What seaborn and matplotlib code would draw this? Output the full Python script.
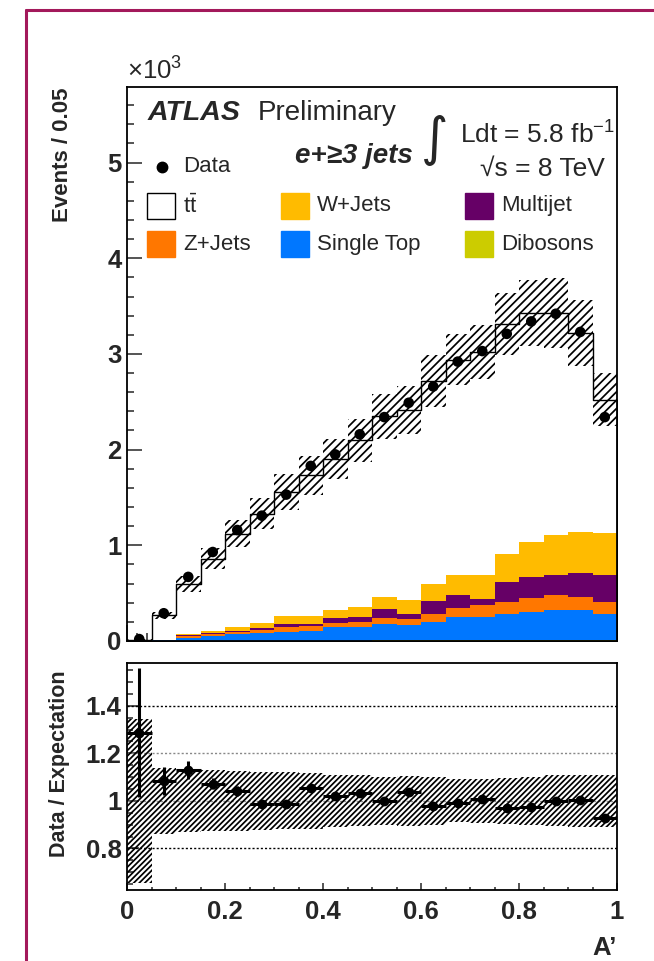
import numpy as np
import pandas as pd
import matplotlib
matplotlib.use("Agg")
import matplotlib.pyplot as plt
import seaborn as sns
from matplotlib.patches import Rectangle
from matplotlib.lines import Line2D
from matplotlib.ticker import MultipleLocator, FixedLocator, FuncFormatter

# ---------------- data (events in units of 10^3, bins of width 0.05 in A') -------------
bin_edges = np.linspace(0.0, 1.0, 21)
bin_centers = 0.5 * (bin_edges[:-1] + bin_edges[1:])

data = [0.02, 0.29, 0.67, 0.93, 1.16, 1.31, 1.53, 1.83, 1.95, 2.16,
        2.34, 2.49, 2.66, 2.92, 3.03, 3.21, 3.34, 3.42, 3.23, 2.34]
dibosons = [0.0, 0.001, 0.002, 0.002, 0.003, 0.003, 0.004, 0.004, 0.005, 0.005,
            0.006, 0.006, 0.008, 0.009, 0.009, 0.010, 0.011, 0.012, 0.012, 0.011]
single_top = [0.0, 0.007, 0.033, 0.054, 0.067, 0.077, 0.093, 0.100, 0.141, 0.141,
              0.174, 0.157, 0.190, 0.244, 0.244, 0.275, 0.295, 0.311, 0.311, 0.274]
z_jets = [0.0, 0.002, 0.021, 0.014, 0.027, 0.035, 0.049, 0.049, 0.044, 0.054,
          0.063, 0.070, 0.083, 0.094, 0.122, 0.121, 0.142, 0.156, 0.135, 0.121]
multijet = [0.0, 0.001, 0.007, 0.013, 0.007, 0.024, 0.031, 0.024, 0.053, 0.047,
            0.094, 0.048, 0.136, 0.132, 0.069, 0.212, 0.222, 0.215, 0.250, 0.285]
w_jets = [0.0, 0.001, 0.011, 0.021, 0.045, 0.049, 0.083, 0.083, 0.080, 0.107,
          0.121, 0.146, 0.177, 0.209, 0.244, 0.288, 0.360, 0.410, 0.434, 0.434]
ttbar = [0.012, 0.258, 0.522, 0.756, 0.971, 1.143, 1.295, 1.470, 1.577, 1.746,
         1.892, 1.983, 2.126, 2.253, 2.333, 2.404, 2.400, 2.326, 2.078, 1.395]
# relative systematic uncertainty on the expectation (hatched band)
rel_unc = [0.345, 0.140, 0.133, 0.128, 0.125, 0.122, 0.120, 0.117, 0.110, 0.107,
           0.100, 0.104, 0.100, 0.090, 0.093, 0.098, 0.100, 0.107, 0.108, 0.110]
# ratio panel
ratio = [1.287, 1.084, 1.129, 1.073, 1.041, 0.985, 0.985, 1.056, 1.022, 1.031,
         0.999, 1.038, 0.980, 0.993, 1.006, 0.972, 0.975, 1.001, 1.003, 0.930]
ratio_err = [0.27, 0.058, 0.037, 0.025, 0.020, 0.016, 0.015, 0.014, 0.013, 0.012,
             0.012, 0.011, 0.011, 0.010, 0.010, 0.010, 0.010, 0.010, 0.010, 0.010]

yticks_main = [0, 1, 2, 3, 4, 5]
yticks_ratio = [0.8, 1.0, 1.2, 1.4]
xticks = [0, 0.2, 0.4, 0.6, 0.8, 1.0]

colors = {
    "ttbar": "#FFFFFF",
    "wjets": "#FFBB00",
    "multijet": "#660066",
    "zjets": "#FF7700",
    "singletop": "#0077FF",
    "dibosons": "#CCCC00",
}

# ---------------- style ----------------
sns.set_theme(style="ticks")
plt.rcParams["font.family"] = ["Liberation Sans", "DejaVu Sans"]
plt.rcParams["mathtext.fontset"] = "custom"
plt.rcParams["mathtext.rm"] = "Liberation Sans"
plt.rcParams["mathtext.it"] = "Liberation Sans:italic"
plt.rcParams["mathtext.bf"] = "Liberation Sans:bold"
plt.rcParams["hatch.linewidth"] = 1.25
plt.rcParams["axes.linewidth"] = 1.3

W, H = 654, 961
fig = plt.figure(figsize=(W / 100, H / 100), dpi=100)
fig.patch.set_facecolor("white")

def fx(px):
    return px / W

def fy(py):
    return 1 - py / H

ax = fig.add_axes([fx(127), fy(641), fx(617) - fx(127), fy(87) - fy(641)])
ax2 = fig.add_axes([fx(127), fy(890), fx(617) - fx(127), fy(663) - fy(890)])

# ---------------- stacked backgrounds ----------------
c_dib = np.array(dibosons)
c_st = c_dib + np.array(single_top)
c_z = c_st + np.array(z_jets)
c_mj = c_z + np.array(multijet)
c_w = c_mj + np.array(w_jets)
total = c_w + np.array(ttbar)

def hist_layer(vals, **kw):
    df = pd.DataFrame({"A": bin_centers, "w": vals})
    sns.histplot(data=df, x="A", weights="w", binwidth=0.05, binrange=(0.0, 1.0),
                 element="step", fill=True, alpha=1, ax=ax, **kw)

hist_layer(total, facecolor=colors["ttbar"], edgecolor="black", linewidth=1.0)
layers = [(c_w, "wjets"), (c_mj, "multijet"), (c_z, "zjets"), (c_st, "singletop"), (c_dib, "dibosons")]
for vals, key in layers:
    hist_layer(vals, facecolor=colors[key], edgecolor="none", linewidth=0)

# uncertainty band
u = np.array(rel_unc)
ax.bar(bin_centers, 2 * total * u, bottom=total * (1 - u), width=0.05, fill=False,
       hatch="////", edgecolor="black", linewidth=0, zorder=3)

# data
sns.scatterplot(x=bin_centers, y=data, color="black", s=58, edgecolor="none", ax=ax, zorder=5)

ax.set_xlim(0, 1)
ax.set_ylim(0, 5.79)
ax.set_xlabel("")
ax.set_ylabel("")
ax.xaxis.set_major_locator(MultipleLocator(0.1))
ax.xaxis.set_minor_locator(MultipleLocator(0.02))
ax.yaxis.set_major_locator(FixedLocator(yticks_main))
ax.yaxis.set_minor_locator(MultipleLocator(0.2))
ax.yaxis.set_major_formatter(FuncFormatter(lambda v, p: "%d" % v))
ax.tick_params(axis="x", which="major", direction="in", length=11.5, width=1.1, labelbottom=False)
ax.tick_params(axis="x", which="minor", direction="in", length=5.8, width=1.1)
ax.tick_params(axis="y", which="major", direction="in", length=10.8, width=1.1, pad=4)
ax.tick_params(axis="y", which="minor", direction="in", length=5.0, width=1.1)
for lab in ax.get_yticklabels():
    lab.set_fontsize(18.5)
    lab.set_fontweight("bold")
for s in ["top", "right", "left", "bottom"]:
    ax.spines[s].set_visible(True)
    ax.spines[s].set_color("black")
    ax.spines[s].set_zorder(10)

ax.text(0.0, 1.004, r"×10$^{3}$", transform=ax.transAxes, ha="left", va="bottom", fontsize=18.5)

# ---------------- legend & labels in main panel ----------------
T = ax.transAxes
ax.text(0.042, 0.953, "ATLAS", transform=T, fontsize=20.5, fontweight="bold", style="italic", va="center")
ax.text(0.267, 0.953, "Preliminary", transform=T, fontsize=20, va="center")
ax.text(0.584, 0.8755, "e+≥3 jets", transform=T, fontsize=20, fontweight="bold", style="italic",
        ha="right", va="center")
ax.text(0.6286, 0.904, "∫", transform=T, family="DejaVu Sans", fontsize=38, ha="center", va="center")
ax.text(0.6796, 0.913, r"Ldt = 5.8 fb$^{\mathregular{-1}}$", transform=T, fontsize=19, va="center")
ax.text(0.9755, 0.852, "√s = 8 TeV", transform=T, fontsize=19, ha="right", va="center")

ax.plot([0.0714], [0.8556], "o", color="black", ms=7.5, transform=T, clip_on=False)
ax.text(0.1143, 0.8556, "Data", transform=T, fontsize=16, va="center")

bw, bh = 0.0571, 0.047
entries = [
    (0.0408, 0.7617, "ttbar", r"t$\mathregular{\bar{t}}$"),
    (0.3143, 0.7617, "wjets", "W+Jets"),
    (0.6898, 0.7617, "multijet", "Multijet"),
    (0.0408, 0.6931, "zjets", "Z+Jets"),
    (0.3143, 0.6931, "singletop", "Single Top"),
    (0.6898, 0.6931, "dibosons", "Dibosons"),
]
for x0, y0, key, lab in entries:
    ec = "black" if key == "ttbar" else colors[key]
    ax.add_patch(Rectangle((x0, y0), bw, bh, transform=T, facecolor=colors[key],
                           edgecolor=ec, linewidth=1.0, zorder=6))
    ax.text(x0 + 0.0735, y0 + bh / 2, lab, transform=T, fontsize=16, va="center")

# ---------------- ratio panel ----------------
ax2.bar(bin_centers, 2 * u, bottom=1 - u, width=0.05, fill=False,
        hatch="//////", edgecolor="black", linewidth=0, zorder=2)
for yv, col in [(1.4, "black"), (1.2, "#888888"), (1.0, "#888888"), (0.8, "black")]:
    ax2.axhline(yv, color=col, linestyle=(0, (1.5, 1.5)), linewidth=1.0, zorder=1)
ax2.errorbar(bin_centers, ratio, xerr=0.025, yerr=ratio_err, fmt="o", color="black",
             ms=6.0, elinewidth=2.2, capsize=0, zorder=5)
ax2.set_xlim(0, 1)
ax2.set_ylim(0.625, 1.58)
ax2.xaxis.set_major_locator(FixedLocator(xticks))
ax2.xaxis.set_minor_locator(MultipleLocator(0.05))
ax2.yaxis.set_major_locator(FixedLocator(yticks_ratio))
ax2.yaxis.set_minor_locator(MultipleLocator(0.05))
ax2.xaxis.set_major_formatter(FuncFormatter(lambda v, p: "%g" % v))
ax2.yaxis.set_major_formatter(FuncFormatter(lambda v, p: "%g" % v))
ax2.tick_params(axis="x", which="major", direction="in", length=5.0, width=1.1, pad=7)
ax2.tick_params(axis="x", which="minor", direction="in", length=2.5, width=1.1)
ax2.tick_params(axis="y", which="major", direction="in", length=8.6, width=1.1, pad=4)
ax2.tick_params(axis="y", which="minor", direction="in", length=4.3, width=1.1)
for lab in ax2.get_xticklabels() + ax2.get_yticklabels():
    lab.set_fontsize(18.5)
    lab.set_fontweight("bold")
for s in ["top", "right", "left", "bottom"]:
    ax2.spines[s].set_visible(True)
    ax2.spines[s].set_color("black")

fig.text(fx(62), fy(88), "Events / 0.05", rotation=90, ha="center", va="top",
         fontsize=16, fontweight="bold")
fig.text(fx(60), fy(764), "Data / Expectation", rotation=90, ha="center", va="center",
         fontsize=15.5, fontweight="bold")
fig.text(fx(617), fy(948), "A’", ha="right", va="center", fontsize=18.5, fontweight="bold")

# slide frame
frame_col = "#A3195B"
fig.add_artist(Line2D([fx(26), fx(26)], [fy(10), 0], color=frame_col, lw=2.2,
                      transform=fig.transFigure))
fig.add_artist(Line2D([fx(26), 1], [fy(10), fy(10)], color=frame_col, lw=2.2,
                      transform=fig.transFigure))

fig.savefig("out.png", dpi=100, facecolor="white")
